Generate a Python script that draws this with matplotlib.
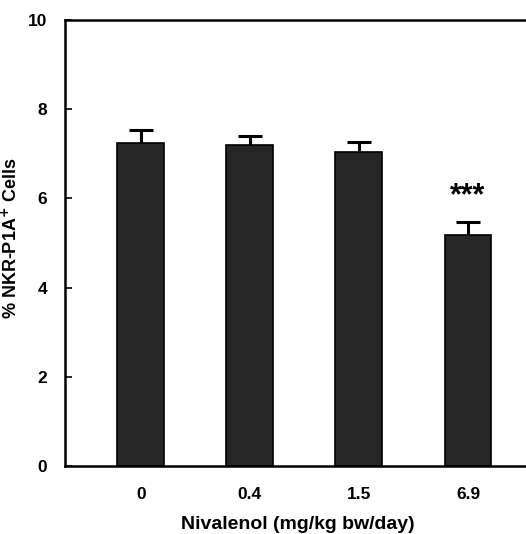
import matplotlib.pyplot as plt
import numpy as np

plt.rcParams['font.family'] = ['Liberation Sans', 'DejaVu Sans']
plt.rcParams['font.weight'] = 'bold'

doses = ['0', '0.4', '1.5', '6.9']
means = [7.24, 7.20, 7.03, 5.17]
sems = [0.30, 0.21, 0.24, 0.30]
marks = ['', '', '', '***']

fig = plt.figure(figsize=(5.26, 5.34), dpi=100)
ax = fig.add_axes([65 / 526, 68 / 534, 1 - 65 / 526 + 0.01, 446 / 534])

x = np.arange(len(doses))
# error bars behind the bars so only the upper half shows
ax.errorbar(x, means, yerr=sems, fmt='none', ecolor='black',
            elinewidth=2.2, capsize=8.5, capthick=2.2, zorder=1)
ax.bar(x, means, width=0.43, color='#262626', edgecolor='black', linewidth=1.2, zorder=2)

for xi, lab in zip(x, marks):
    if lab:
        ax.text(xi, 6.05, lab, ha='center', va='center', fontsize=22, fontweight='bold')

ax.set_xlim(-0.694, 3.58)
ax.set_ylim(0, 10)
ax.set_yticks([0, 2, 4, 6, 8, 10])
ax.set_xticks(x)
ax.set_xticklabels(doses)
ax.tick_params(axis='y', direction='in', length=5, width=1.2, labelsize=12.5, pad=13)
ax.tick_params(axis='x', length=0, labelsize=12.5, pad=15)
for sp in ['left', 'bottom', 'top']:
    ax.spines[sp].set_linewidth(1.8)
ax.spines['right'].set_visible(False)

ax.set_xlabel('Nivalenol (mg/kg bw/day)', fontsize=14, fontweight='bold', labelpad=10)
ax.set_ylabel('% NKR-P1A$^{\\mathbf{+}}$ Cells', fontsize=13, fontweight='bold')
ax.yaxis.set_label_coords(-0.094, 0.51)

fig.savefig('out.png', dpi=100)
